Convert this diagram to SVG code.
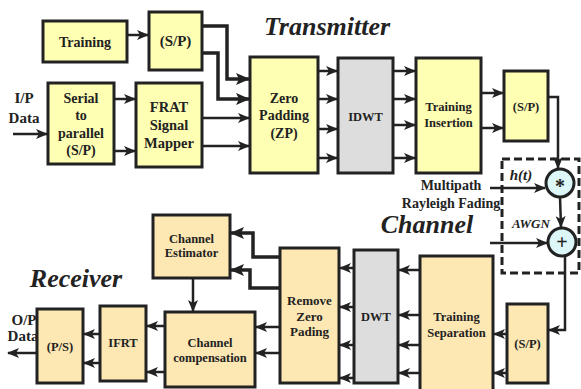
<svg xmlns="http://www.w3.org/2000/svg" width="581" height="389" viewBox="0 0 581 389">
<defs>
<marker id="ah" markerUnits="userSpaceOnUse" markerWidth="12" markerHeight="12" viewBox="0 0 12 12" refX="11" refY="6" orient="auto">
<path d="M0,1 L12,6 L0,11 L3,6 Z" fill="#222"/>
</marker>
<marker id="ahb" markerUnits="userSpaceOnUse" markerWidth="14" markerHeight="14" viewBox="0 0 14 14" refX="13" refY="7" orient="auto">
<path d="M0,1 L14,7 L0,13 L3,7 Z" fill="#222"/>
</marker>
<style>
.tx{fill:#FFFFB4;stroke:#222;stroke-width:3}
.gr{fill:#DDDDDD;stroke:#222;stroke-width:3}
.rx{fill:#FDE8B4;stroke:#222;stroke-width:3}
.ci{fill:#DDF6F8;stroke:#222;stroke-width:3}
text{font-family:"Liberation Serif","Times New Roman",serif;font-weight:bold;fill:#222;text-anchor:middle;dominant-baseline:central}
.t{font-size:14px}
.s{font-size:12.5px}
.big{font-size:26px;font-style:italic;dominant-baseline:alphabetic}
.it{font-style:italic}
.c{fill:none;stroke:#222;stroke-width:2.5;marker-end:url(#ah)}
.cb{fill:none;stroke:#222;stroke-width:3.5;marker-end:url(#ahb)}
</style>
</defs>

<text class="big" x="327" y="35">Transmitter</text>
<text class="big" x="427" y="233">Channel</text>
<text class="big" x="76" y="287">Receiver</text>

<g id="ip-label">
<text class="t" x="24" y="98" style="font-size:15px">I/P</text>
<text class="t" x="24" y="118" style="font-size:15px">Data</text>
</g>
<g id="op-label">
<text class="t" x="24" y="320" style="font-size:15px">O/P</text>
<text class="t" x="23" y="336" style="font-size:15px">Data</text>
</g>

<g id="training"><rect class="tx" x="43" y="21" width="84" height="41"/><text class="t" x="85" y="42">Training</text></g>
<g id="sp1"><rect class="tx" x="149" y="12" width="53" height="58"/><text class="t" x="175.5" y="41" style="font-size:15px">(S/P)</text></g>
<g id="s2p"><rect class="tx" x="48" y="83" width="66" height="81"/>
<text class="t" x="81" y="98">Serial</text><text class="t" x="81" y="115.5">to</text><text class="t" x="81" y="133">parallel</text><text class="t" x="81" y="150.5">(S/P)</text></g>
<g id="frat"><rect class="tx" x="136" y="83" width="66" height="84"/>
<text class="t" x="169" y="107" style="font-size:14.5px">FRAT</text><text class="t" x="169" y="125" style="font-size:14.5px">Signal</text><text class="t" x="169" y="143" style="font-size:14.5px">Mapper</text></g>
<g id="zp"><rect class="tx" x="250" y="57" width="68" height="116"/>
<text class="t" x="284" y="98">Zero</text><text class="t" x="284" y="115.5">Padding</text><text class="t" x="284" y="133">(ZP)</text></g>
<g id="idwt"><rect class="gr" x="338" y="58" width="55" height="115"/><text class="s" x="365.5" y="117">IDWT</text></g>
<g id="tins"><rect class="tx" x="416" y="58" width="65" height="115"/>
<text class="s" x="448.5" y="107">Training</text><text class="s" x="448.5" y="123">Insertion</text></g>
<g id="sp2"><rect class="tx" x="504" y="71" width="44" height="70"/><text class="s" x="526" y="107">(S/P)</text></g>

<g id="channel">
<rect x="502" y="159" width="77" height="114" fill="none" stroke="#222" stroke-width="3" stroke-dasharray="8,4"/>
<text class="t" x="451" y="185">Multipath</text>
<text class="t" x="451" y="203">Rayleigh Fading</text>
<text class="t it" x="521" y="175" style="font-size:15px">h(t)</text>
<text class="it" x="531" y="223" style="font-size:13px">AWGN</text>
</g>
<g id="conv"><circle class="ci" cx="560" cy="183" r="14"/><text x="560" y="186" style="font-size:20px">*</text></g>
<g id="add"><circle class="ci" cx="562" cy="242" r="14"/><text x="562" y="242" style="font-size:20px">+</text></g>

<g id="sp3"><rect class="rx" x="507" y="304" width="41" height="79"/><text class="s" x="527.5" y="344">(S/P)</text></g>
<g id="tsep"><rect class="rx" x="420" y="256" width="73" height="138"/>
<text class="s" x="456.5" y="317">Training</text><text class="s" x="456.5" y="333">Separation</text></g>
<g id="dwt"><rect class="gr" x="354" y="250" width="44" height="133"/><text class="s" x="376" y="317">DWT</text></g>
<g id="rzp"><rect class="rx" x="280" y="248" width="59" height="135"/>
<text class="s" x="309.5" y="300" style="font-size:13px">Remove</text><text class="s" x="309.5" y="316" style="font-size:13px">Zero</text><text class="s" x="309.5" y="331" style="font-size:13px">Pading</text></g>
<g id="cest"><rect class="rx" x="153" y="215" width="77" height="63"/>
<text class="s" x="191.5" y="239">Channel</text><text class="s" x="191.5" y="253">Estimator</text></g>
<g id="ccomp"><rect class="rx" x="165" y="312" width="90" height="75"/>
<text class="s" x="210" y="343">Channel</text><text class="s" x="210" y="358">compensation</text></g>
<g id="ifrt"><rect class="rx" x="100" y="306" width="46" height="75"/><text class="s" x="123" y="343">IFRT</text></g>
<g id="ps"><rect class="rx" x="37" y="309" width="46" height="74"/><text class="s" x="60" y="347">(P/S)</text></g>

<g id="connectors">
<path class="c" d="M13,134 H47"/>
<path class="c" d="M127,35 H148"/>
<path class="cb" d="M202,26 H227 V79 H249"/>
<path class="cb" d="M202,53 H218 V99 H249"/>
<path class="c" d="M114,99 H135"/>
<path class="c" d="M114,151 H135"/>
<path class="c" d="M202,118 H249"/>
<path class="c" d="M202,146 H249"/>
<path class="c" d="M318,71 H337"/>
<path class="c" d="M318,99 H337"/>
<path class="c" d="M318,129 H337"/>
<path class="c" d="M318,158 H337"/>
<path class="c" d="M393,71 H415"/>
<path class="c" d="M393,99 H415"/>
<path class="c" d="M393,125 H415"/>
<path class="c" d="M393,158 H415"/>
<path class="c" d="M481,93 H503"/>
<path class="c" d="M481,128 H503"/>
<path class="c" d="M548,97 H558 V168"/>
<path class="c" d="M490,188 H545"/>
<path class="c" d="M560,197 L561,227"/>
<path class="c" d="M490,243 H547"/>
<path class="c" d="M565,256 V330 H549"/>
<path class="c" d="M507,334 H494"/>
<path class="c" d="M507,373 H494"/>
<path class="c" d="M420,270 H399"/>
<path class="c" d="M420,315 H399"/>
<path class="c" d="M420,345 H399"/>
<path class="c" d="M420,373 H399"/>
<path class="c" d="M354,268 H340"/>
<path class="c" d="M354,307 H340"/>
<path class="c" d="M354,345 H340"/>
<path class="c" d="M354,378 H340"/>
<path class="cb" d="M280,257 H253 V233 H231"/>
<path class="cb" d="M280,288 H250 V270 H231"/>
<path class="c" d="M193,278 V311"/>
<path class="c" d="M280,327 H256"/>
<path class="c" d="M280,353 H256"/>
<path class="c" d="M165,326 H147"/>
<path class="c" d="M165,372 H147"/>
<path class="c" d="M100,334 H84"/>
<path class="c" d="M100,363 H84"/>
<path class="c" d="M37,353 H8"/>
</g>
</svg>
